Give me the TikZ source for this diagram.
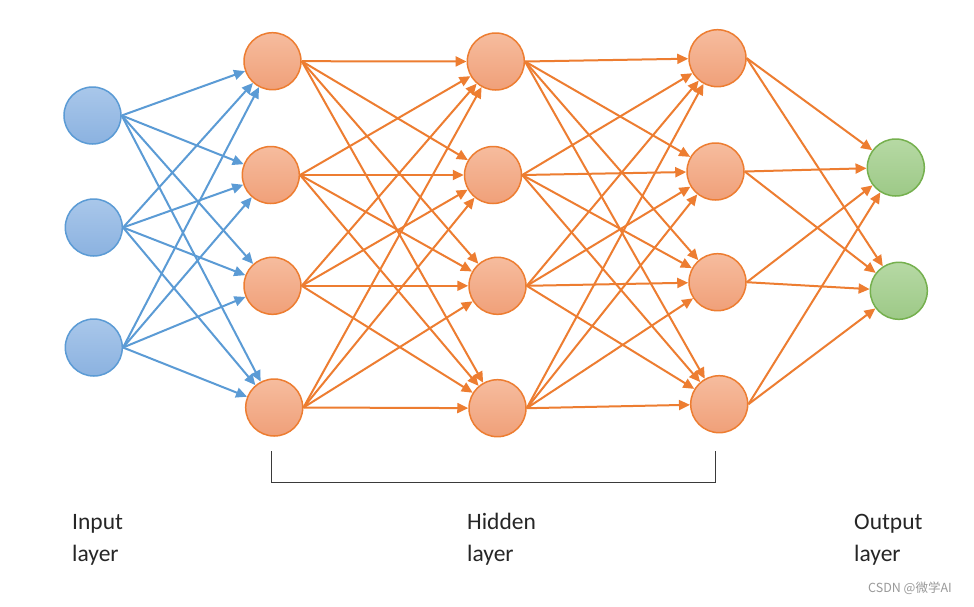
\documentclass[tikz,border=0pt]{standalone}
\usepackage{fontspec}
\setmainfont{Carlito}
\newfontfamily\cjk{Noto Sans CJK SC}
\usetikzlibrary{arrows.meta}
\definecolor{bline}{HTML}{5B9BD5}
\definecolor{btop}{HTML}{A9C7EA}
\definecolor{bbot}{HTML}{8BB2E0}
\definecolor{oline}{HTML}{ED7D31}
\definecolor{otop}{HTML}{F6BC9E}
\definecolor{obot}{HTML}{F0A079}
\definecolor{gline}{HTML}{75B04E}
\definecolor{gtop}{HTML}{B6D9A4}
\definecolor{gbot}{HTML}{9DC987}
\definecolor{txt}{HTML}{262626}
\definecolor{brk}{HTML}{3A3A3A}
\definecolor{wm}{HTML}{9A9A9A}
\tikzset{
  neuron/.style={circle, minimum size=57pt, inner sep=0pt, line width=1.5pt},
  inneuron/.style={neuron, draw=bline, top color=btop, bottom color=bbot},
  hidneuron/.style={neuron, draw=oline, top color=otop, bottom color=obot},
  outneuron/.style={neuron, draw=gline, top color=gtop, bottom color=gbot},
  conn/.style={line width=2pt, -{Triangle[length=11pt,width=10pt]}},
  bconn/.style={conn, draw=bline, fill=bline},
  oconn/.style={conn, draw=oline, fill=oline},
  lbl/.style={anchor=base west, inner sep=0pt, font=\fontsize{23.5}{32}\selectfont, text=txt},
  bracket/.style={draw=brk, line width=1.8pt},
  wmark/.style={anchor=base east, inner sep=0pt, font=\cjk\fontsize{12.5}{15}\selectfont, text=wm}
}
\begin{document}
\begin{tikzpicture}[x=1pt,y=-1pt]
\useasboundingbox[fill=white] (0,0) rectangle (974,606);
% input layer
\node[inneuron] (i1) at (92.5,115.5) {};
\node[inneuron] (i2) at (93.8,227.5) {};
\node[inneuron] (i3) at (93.8,347.5) {};
% hidden layer 1
\node[hidneuron] (a1) at (272.5,61.2) {};
\node[hidneuron] (a2) at (270.8,175) {};
\node[hidneuron] (a3) at (272.5,285.8) {};
\node[hidneuron] (a4) at (274.2,407.5) {};
% hidden layer 2
\node[hidneuron] (b1) at (495.8,61.5) {};
\node[hidneuron] (b2) at (493,175) {};
\node[hidneuron] (b3) at (497.5,285.8) {};
\node[hidneuron] (b4) at (497.5,408.2) {};
% hidden layer 3
\node[hidneuron] (c1) at (717.5,58.2) {};
\node[hidneuron] (c2) at (715.5,171.5) {};
\node[hidneuron] (c3) at (717.5,282.2) {};
\node[hidneuron] (c4) at (719.2,404.2) {};
% output layer
\node[outneuron] (o1) at (895.8,167.5) {};
\node[outneuron] (o2) at (898.8,290.8) {};
% connections
\foreach \s in {1,2,3}
  \foreach \t in {1,2,3,4}
    \draw[bconn] (i\s.east) -- (a\t);
\foreach \s in {1,2,3,4}
  \foreach \t in {1,2,3,4}
    \draw[oconn] (a\s.east) -- (b\t);
\foreach \s in {1,2,3,4}
  \foreach \t in {1,2,3,4}
    \draw[oconn] (b\s.east) -- (c\t);
\foreach \s in {1,2,3,4}
  \foreach \t in {1,2}
    \draw[oconn] (c\s.east) -- (o\t);
% bracket
\coordinate (bl) at (271.5,451);
\coordinate (br) at (715.5,451);
\draw[bracket] (bl) -- (271.5,482.5) -- (715.5,482.5) -- (br);
% labels
\node[lbl] (in1) at (72,529) {Input};
\node[lbl] (in2) at (72,561) {layer};
\node[lbl] (hd1) at (467,529) {Hidden};
\node[lbl] (hd2) at (467,561) {layer};
\node[lbl] (ou1) at (854,529) {Output};
\node[lbl] (ou2) at (854,561) {layer};
\node[wmark] (wmk) at (952,592.5) {CSDN @微学AI};
\end{tikzpicture}
\end{document}
